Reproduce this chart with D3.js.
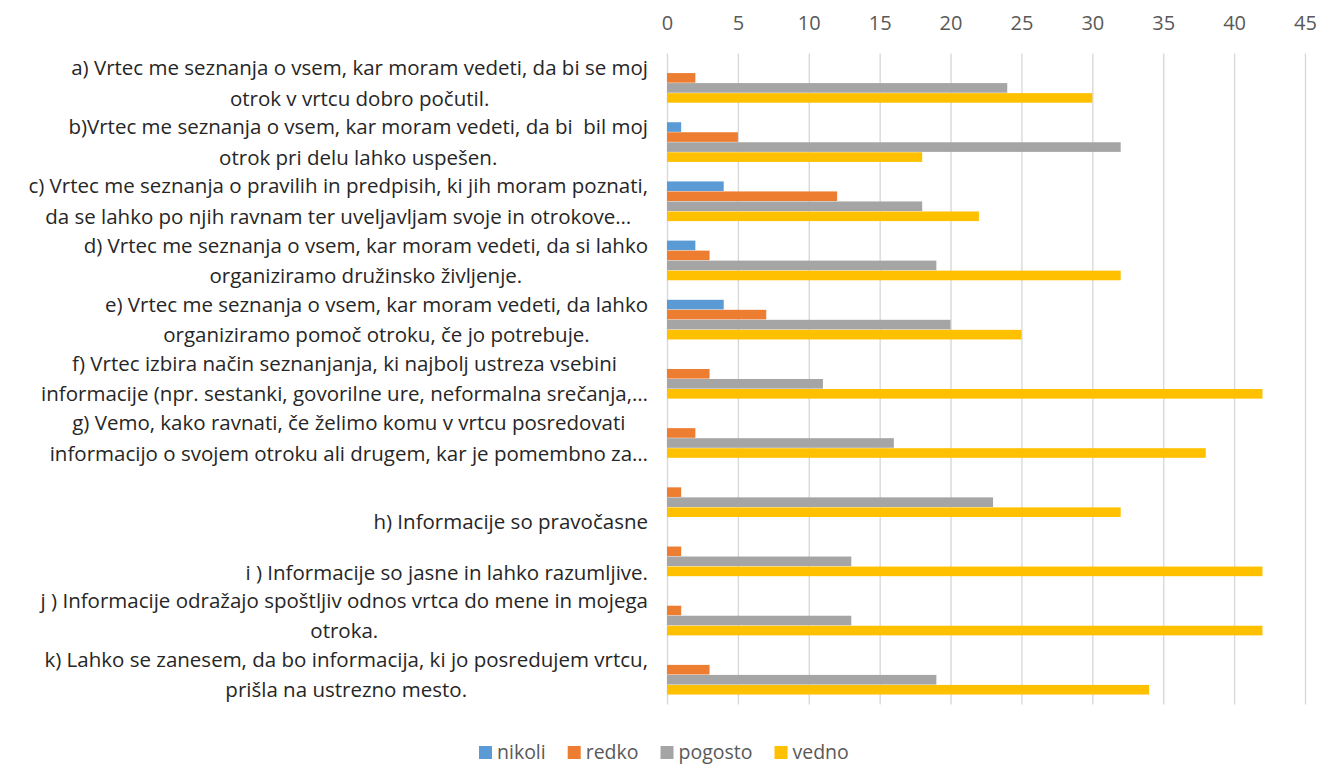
<!DOCTYPE html>
<html>
<head>
<meta charset="utf-8">
<script src="https://cdn.jsdelivr.net/npm/d3@7"></script>
<style>
  body { margin: 0; background: #fff; }
  svg text { font-family: "Open Sans", sans-serif; white-space: pre; }
</style>
</head>
<body>
<div id="chart"></div>
<script>
  // categories (label lines as shown in the chart)
  var categories = [
    ["a) Vrtec me seznanja o vsem, kar moram vedeti, da bi se moj", "otrok v vrtcu dobro počutil."],
    ["b)Vrtec me seznanja o vsem, kar moram vedeti, da bi  bil moj", "otrok pri delu lahko uspešen."],
    ["c) Vrtec me seznanja o pravilih in predpisih, ki jih moram poznati,", "da se lahko po njih ravnam ter uveljavljam svoje in otrokove…"],
    ["d) Vrtec me seznanja o vsem, kar moram vedeti, da si lahko", "organiziramo družinsko življenje."],
    ["e) Vrtec me seznanja o vsem, kar moram vedeti, da lahko", "organiziramo pomoč otroku, če jo potrebuje."],
    ["f) Vrtec izbira način seznanjanja, ki najbolj ustreza vsebini", "informacije (npr. sestanki, govorilne ure, neformalna srečanja,…"],
    ["g) Vemo, kako ravnati, če želimo komu v vrtcu posredovati", "informacijo o svojem otroku ali drugem, kar je pomembno za…"],
    ["h) Informacije so pravočasne"],
    ["i ) Informacije so jasne in lahko razumljive."],
    ["j ) Informacije odražajo spoštljiv odnos vrtca do mene in mojega", "otroka."],
    ["k) Lahko se zanesem, da bo informacija, ki jo posredujem vrtcu,", "prišla na ustrezno mesto."]
  ];

  var seriesNames = ["nikoli", "redko", "pogosto", "vedno"];

  var nikoli  = [0, 1, 4, 2, 4, 0, 0, 0, 0, 0, 0];
  var redko   = [2, 5, 12, 3, 7, 3, 2, 1, 1, 1, 3];
  var pogosto = [24, 32, 18, 19, 20, 11, 16, 23, 13, 13, 19];
  var vedno   = [30, 18, 22, 32, 25, 42, 38, 32, 42, 42, 34];

  var xTicks = [0, 5, 10, 15, 20, 25, 30, 35, 40, 45];

  var colors = ["#5B9BD5", "#ED7D31", "#A5A5A5", "#FFC000"];

  var width = 1318, height = 767;
  var plot = { left: 667, right: 1305, top: 53.5, bottom: 704.5 };
  var labelRight = 648;
  var lineH = 30.5;

  var svg = d3.select("#chart").append("svg")
      .attr("width", width)
      .attr("height", height);

  var table = categories.map(function(c, i) {
    return { idx: i, lines: c, values: [nikoli[i], redko[i], pogosto[i], vedno[i]] };
  });

  var xScale = d3.scaleLinear()
    .domain([0, 45])
    .range([plot.left, plot.right]);

  var yScale = d3.scaleBand()
    .domain(d3.range(categories.length))
    .range([plot.top, plot.bottom])
    .paddingInner(0.323)
    .paddingOuter(0.1615);

  var ySub = d3.scaleBand()
    .domain(d3.range(seriesNames.length))
    .range([0, yScale.bandwidth()]);

  // axis on top with gridlines
  var axisx = d3.axisTop(xScale)
    .tickValues(xTicks)
    .tickSizeInner(-(plot.bottom - plot.top))
    .tickSizeOuter(0)
    .tickPadding(24);

  var gx = svg.append("g")
    .attr("transform", "translate(0," + plot.top + ")")
    .call(axisx);
  gx.select(".domain").remove();
  gx.selectAll(".tick line")
    .attr("stroke", "#d9d9d9")
    .attr("stroke-width", 1.4);
  gx.selectAll(".tick text")
    .attr("fill", "#595959")
    .attr("font-size", "20px")
    .attr("font-family", "Open Sans, sans-serif");

  // bars
  var groups = svg.append("g").attr("class", "bars")
    .selectAll("g")
    .data(table)
    .enter()
    .append("g")
    .attr("transform", function(d) { return "translate(0," + yScale(d.idx) + ")"; });

  groups.selectAll("rect")
    .data(function(d) { return d.values; })
    .enter()
    .append("rect")
    .attr("x", xScale(0))
    .attr("y", function(d, j) { return ySub(j); })
    .attr("width", function(d) { return xScale(d) - xScale(0); })
    .attr("height", ySub.bandwidth() - 0.4)
    .attr("fill", function(d, j) { return colors[j]; });

  // category labels: block right aligned, lines centred within block
  var labelShift = { 7: 24, 8: 16 };
  var labels = svg.append("g").attr("class", "labels");
  table.forEach(function(d) {
    var g = labels.append("g");
    var cy = yScale(d.idx) + yScale.bandwidth() / 2 + (labelShift[d.idx] || 0);
    var n = d.lines.length;
    var texts = g.selectAll("text")
      .data(d.lines)
      .enter()
      .append("text")
      .attr("font-size", "20.5px")
      .attr("fill", "#262626")
      .attr("text-anchor", "middle")
      .attr("y", function(t, k) { return cy + (k - (n - 1) / 2) * lineH; })
      .attr("dy", "0.35em")
      .text(function(t) { return t; });
    var maxW = 0;
    texts.each(function() { maxW = Math.max(maxW, this.getComputedTextLength()); });
    texts.attr("x", labelRight - maxW / 2);
  });

  // legend
  var legend = svg.append("g").attr("class", "legend");
  var lx = 479;
  seriesNames.forEach(function(name, j) {
    var item = legend.append("g").attr("transform", "translate(" + lx + ",752)");
    item.append("rect")
      .attr("x", 0).attr("y", -6)
      .attr("width", 13).attr("height", 13)
      .attr("fill", colors[j]);
    var t = item.append("text")
      .attr("x", 18)
      .attr("dy", "0.35em")
      .attr("font-size", "19.5px")
      .attr("fill", "#595959")
      .text(name);
    lx += 18 + t.node().getComputedTextLength() + 22;
  });
</script>
</body>
</html>
